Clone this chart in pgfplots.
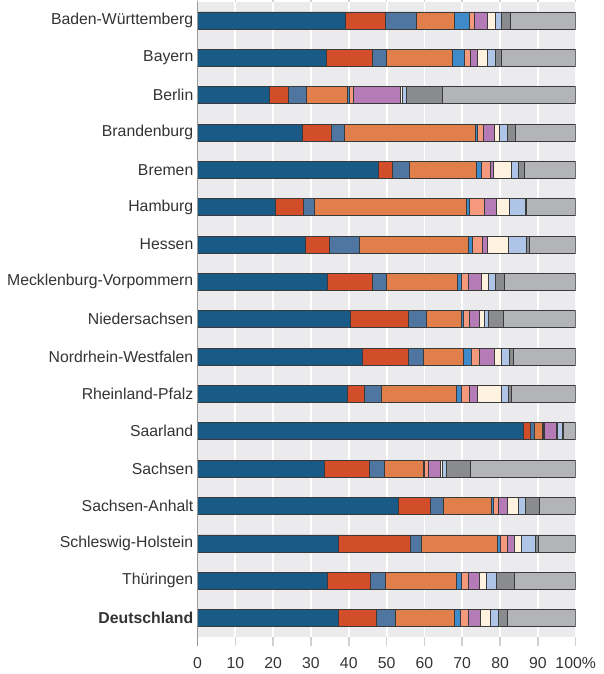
\documentclass[border=0pt]{standalone}
\usepackage{fontspec}
\setmainfont{Liberation Sans}
\usepackage{pgfplots}
\pgfplotsset{compat=1.18}
\usepackage{pgfplotstable}
\definecolor{c1}{HTML}{1A5A87}
\definecolor{c2}{HTML}{D24D2A}
\definecolor{c3}{HTML}{4E76A0}
\definecolor{c4}{HTML}{E07F4A}
\definecolor{c5}{HTML}{3F8BCA}
\definecolor{c6}{HTML}{F5997C}
\definecolor{c7}{HTML}{B57BB6}
\definecolor{c8}{HTML}{FFF3E0}
\definecolor{c9}{HTML}{AEC5E7}
\definecolor{c10}{HTML}{8A8B8E}
\definecolor{c11}{HTML}{B3B4B7}
\definecolor{bg}{HTML}{EBEBEE}
\definecolor{edge}{HTML}{3A3A3A}
\definecolor{lab}{HTML}{333333}
\definecolor{axgray}{HTML}{9A9A9A}
\definecolor{tickgray}{HTML}{D0D0D2}
\pgfplotstableread{
y a b c d e f g h i j k
0 39.0 10.6 8.2 10.2 3.9 1.3 3.5 2.1 1.5 2.3 17.4
1 34.0 12.2 3.8 17.3 3.3 1.5 1.8 2.8 2.1 1.6 19.6
2 18.9 5.1 4.7 10.9 0.5 1.2 12.4 0.5 1.0 9.6 35.2
3 27.6 7.8 3.5 34.5 0.6 1.6 2.9 1.2 2.2 2.2 15.9
4 47.9 3.6 4.5 17.8 1.2 2.4 0.7 5.0 1.7 1.6 13.6
5 20.6 7.4 2.9 40.3 0.6 4.1 3.0 3.5 4.4 0.2 13.0
6 28.6 6.3 7.8 28.9 1.1 2.7 1.3 5.5 4.7 0.9 12.2
7 34.4 11.9 3.7 18.8 0.9 1.8 3.5 1.9 1.8 2.4 18.9
8 40.3 15.5 4.7 9.2 0.7 1.4 2.6 1.5 1.0 4.0 19.1
9 43.6 12.2 3.9 10.7 2.1 2.0 4.0 1.8 2.2 1.1 16.4
10 39.5 4.6 4.6 19.8 1.2 2.1 2.1 6.4 1.9 0.7 17.1
11 86.2 1.7 1.2 2.2 0.2 0.2 3.3 0.2 1.2 0.2 3.4
12 33.5 12.0 3.8 10.3 0.4 1.1 3.0 0.5 1.3 6.2 27.9
13 53.1 8.5 3.4 12.6 0.7 1.3 2.4 2.8 1.8 3.8 9.6
14 37.3 18.9 2.9 20.2 0.7 2.0 1.7 1.9 3.8 0.7 9.9
15 34.4 11.2 4.1 18.8 1.2 1.8 3.0 1.8 2.8 4.7 16.2
16 37.1 10.3 4.9 15.7 1.6 1.9 3.2 2.7 2.2 2.4 18.0
}\data
\begin{document}
\begin{tikzpicture}
\begin{axis}[
  scale only axis, width=378.2pt, height=634.9pt,
  xmin=0, xmax=100, ymin=-0.5, ymax=16.5, y dir=reverse,
  xbar stacked, bar width=17pt,
  axis background/.style={fill=bg},
  xmajorgrids, major grid style={white, line width=1.8pt},
  axis line style={draw=none},
  xtick={0,10,...,100},
  xticklabels={0,10,20,30,40,50,60,70,80,90,100\%},
  ytick={0,...,16},
  yticklabels={Baden-Württemberg,Bayern,Berlin,Brandenburg,Bremen,Hamburg,Hessen,Mecklenburg-Vorpommern,Niedersachsen,Nordrhein-Westfalen,Rheinland-Pfalz,Saarland,Sachsen,Sachsen-Anhalt,Schleswig-Holstein,Thüringen,\textbf{Deutschland}},
  tick align=outside, major tick length=9pt,
  x tick style={draw=tickgray, line width=1.5pt},
  y tick style={draw=none},
  tick label style={font=\fontsize{15.8}{18}\selectfont, text=lab},
  /pgf/number format/assume math mode=true,
  yticklabel style={anchor=east, inner sep=0pt, xshift=5pt},
  xticklabel style={anchor=north, inner sep=0pt, yshift=-12pt},
  every axis plot/.append style={draw=edge, line width=0.6pt},
]
\addplot[fill=c1, draw=edge] table[x=a,y=y]{\data};
\addplot[fill=c2, draw=edge] table[x=b,y=y]{\data};
\addplot[fill=c3, draw=edge] table[x=c,y=y]{\data};
\addplot[fill=c4, draw=edge] table[x=d,y=y]{\data};
\addplot[fill=c5, draw=edge] table[x=e,y=y]{\data};
\addplot[fill=c6, draw=edge] table[x=f,y=y]{\data};
\addplot[fill=c7, draw=edge] table[x=g,y=y]{\data};
\addplot[fill=c8, draw=edge] table[x=h,y=y]{\data};
\addplot[fill=c9, draw=edge] table[x=i,y=y]{\data};
\addplot[fill=c10, draw=edge] table[x=j,y=y]{\data};
\addplot[fill=c11, draw=edge] table[x=k,y=y]{\data};
\end{axis}
\draw[axgray, line width=1.6pt] (current axis.north west) -- ([yshift=-9pt]current axis.south west);
\pgfresetboundingbox
\path ([xshift=-197.5pt,yshift=-37.3pt]current axis.south west) rectangle ([xshift=28.3pt,yshift=1.8pt]current axis.north east);
\end{tikzpicture}
\end{document}
